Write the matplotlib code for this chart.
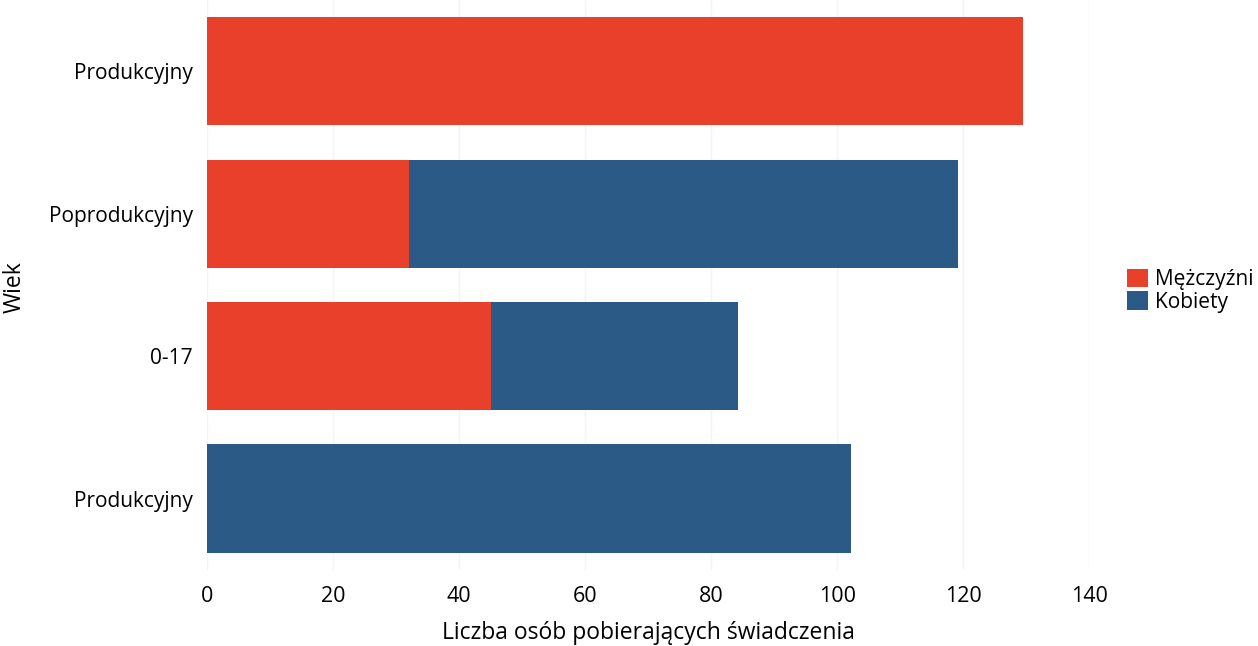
import matplotlib.pyplot as plt

plt.rcParams['font.family'] = ['Open Sans', 'DejaVu Sans']

# categories from top to bottom
categories = ["Produkcyjny", "Poprodukcyjny", "0-17", "Produkcyjny"]
men = [129.5, 32, 45, 0]
women = [0, 87.2, 39.3, 102.1]
xticks = [0, 20, 40, 60, 80, 100, 120, 140]

red = "#e8402a"
blue = "#2c5a86"

fig = plt.figure(figsize=(12.58, 6.46), dpi=100)
ax = fig.add_axes([0.1645, 0.118, 0.7015, 0.882])

pos = list(range(len(categories)))[::-1]
ax.barh(pos, men, height=0.76, color=red, label="Mężczyźni", zorder=2)
ax.barh(pos, women, left=men, height=0.76, color=blue, label="Kobiety", zorder=2)

ax.set_ylim(-0.5, 3.5)
ax.set_xlim(0, 140)
ax.set_yticks(pos)
ax.set_yticklabels(categories, fontsize=15)
ax.set_xticks(xticks)
ax.set_xticklabels([str(t) for t in xticks], fontsize=15.5)
ax.tick_params(length=0, pad=12)
ax.tick_params(axis='y', pad=10)
ax.grid(axis='x', color="#f4f4f4", lw=1, zorder=0)
for s in ax.spines.values():
    s.set_visible(False)

ax.set_xlabel("Liczba osób pobierających świadczenia", fontsize=16.5, labelpad=10)
fig.text(0.012, 0.555, "Wiek", rotation=90, fontsize=16.5, va='center', ha='center')

ax.legend(loc='center left', bbox_to_anchor=(1.033, 0.49), frameon=False,
          fontsize=15, handlelength=1.0, handleheight=1.0, handletextpad=0.35,
          labelspacing=0.05, borderaxespad=0)

fig.savefig("out.png", dpi=100)
